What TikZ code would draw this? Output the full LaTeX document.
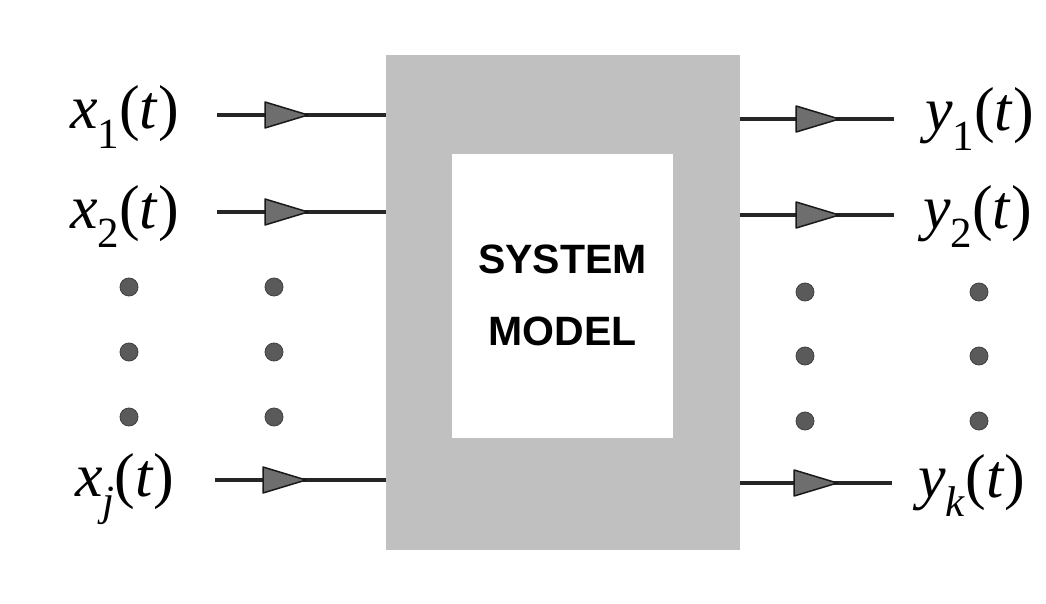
\documentclass[tikz,border=0pt]{standalone}
\usepackage{fontspec}
\setmainfont{Liberation Serif}
\newfontfamily\labelsans{Liberation Sans}
\usetikzlibrary{decorations.markings}

\definecolor{boxgray}{RGB}{192,192,192}
\definecolor{tipgray}{RGB}{110,110,110}
\definecolor{dotgray}{RGB}{90,90,90}

% signal label: letter, subscript
\newcommand{\sig}[2]{\textit{#1}\raisebox{-0.32em}{\fontsize{43}{43}\selectfont #2}(\textit{t})}

\begin{document}
\begin{tikzpicture}[x=1pt,y=-1pt,
  siglabel/.style={inner sep=0pt, anchor=base west, font=\fontsize{62}{62}\selectfont},
  flow/.style={line width=3.8pt, draw=black!85, postaction={decorate},
    decoration={markings, mark=at position #1 with {
      \filldraw[fill=tipgray, draw=black!90, line width=1.5pt, line join=round]
        (0,-13) -- (43,0) -- (0,13) -- cycle;}}},
  dotmark/.style={circle, fill=dotgray, draw=black!75, line width=0.8pt,
    minimum size=18pt, inner sep=0pt},
  titletext/.style={font=\labelsans\bfseries\fontsize{41}{72}\selectfont, align=center}]

\useasboundingbox (0,0) rectangle (1046,604);
\fill[white] (0,0) rectangle (1046,604);

% system block and its inner model panel
\node[fill=boxgray, minimum width=354pt, minimum height=495pt, inner sep=0pt]
  (sys) at (563,302.5) {};
\node[fill=white, minimum width=221pt, minimum height=284pt, inner sep=0pt]
  (model) at (562.5,296) {};
\node[titletext, anchor=base] (title1) at (562.5,273) {SYSTEM};
\node[titletext, anchor=base] (title2) at (562.5,345) {MODEL};

% input signals
\node[siglabel] (x1) at (70,129) {\sig{x}{1}};
\node[siglabel] (x2) at (70,228) {\sig{x}{2}};
\node[siglabel] (xj) at (75,496) {\sig{x}{\textit{j}}};

\coordinate (i1) at (217,115);
\coordinate (i2) at (217,212);
\coordinate (ij) at (215,480);
\draw[flow=48pt] (i1) -- (sys.west |- i1);
\draw[flow=48pt] (i2) -- (sys.west |- i2);
\draw[flow=48pt] (ij) -- (sys.west |- ij);

% output signals
\node[siglabel] (y1) at (925,131) {\sig{y}{1}};
\node[siglabel] (y2) at (923,228) {\sig{y}{2}};
\node[siglabel] (yk) at (918,497) {\sig{y}{\textit{k}}};

\coordinate (o1) at (894,119);
\coordinate (o2) at (894,215);
\coordinate (ok) at (892,483);
\draw[flow=56pt] (sys.east |- o1) -- (o1);
\draw[flow=56pt] (sys.east |- o2) -- (o2);
\draw[flow=54pt] (sys.east |- ok) -- (ok);

% ellipsis dots
\foreach \px/\tag in {129/a, 274/b} {
  \foreach \py/\row in {287/1, 352/2, 417/3}
    \node[dotmark] (l\tag\row) at (\px,\py) {};
}
\foreach \px/\tag in {805/a, 979/b} {
  \foreach \py/\row in {292/1, 356/2, 421/3}
    \node[dotmark] (r\tag\row) at (\px,\py) {};
}
\end{tikzpicture}
\end{document}
